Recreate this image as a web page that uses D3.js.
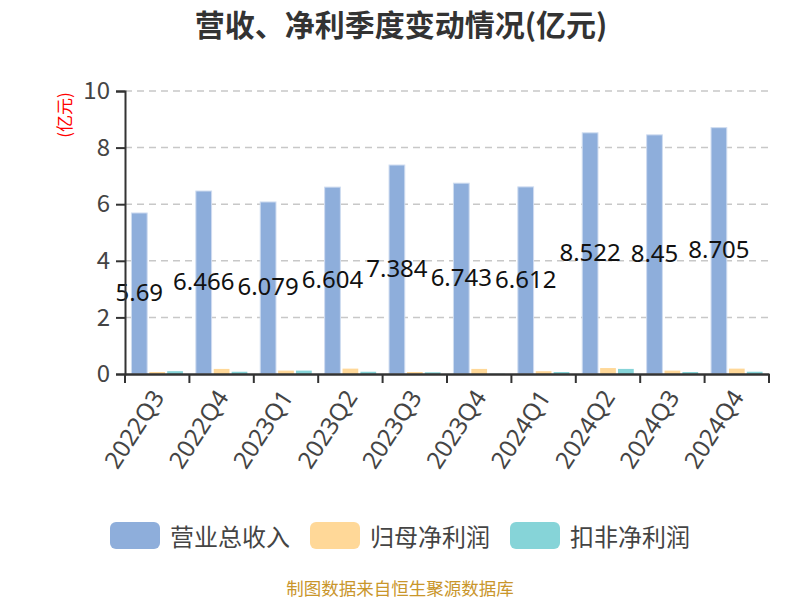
<!DOCTYPE html>
<html><head><meta charset="utf-8">
<script src="https://cdn.jsdelivr.net/npm/d3@7/dist/d3.min.js"></script>
<style>body{margin:0;background:#fff}svg{display:block}text{font-family:"Noto Sans CJK SC","Noto Sans",sans-serif}</style>
</head><body><svg id="c" width="800" height="600"></svg>
<script>
const categories = ["2022Q3","2022Q4","2023Q1","2023Q2","2023Q3","2023Q4","2024Q1","2024Q2","2024Q3","2024Q4"];
const seriesNames = ["营业总收入","归母净利润","扣非净利润"];
const revenue = [5.69,6.466,6.079,6.604,7.384,6.743,6.612,8.522,8.45,8.705];
const netProfit = [0.07,0.18,0.12,0.19,0.07,0.18,0.10,0.21,0.12,0.19];
const deductedProfit = [0.10,0.08,0.12,0.08,0.06,0.01,0.07,0.18,0.07,0.08];
const yTicks = [0,2,4,6,8,10];
const colors = ["#8eaedb","#ffd898","#86d4d8"];

const numFont = "'Noto Sans','Noto Sans CJK SC',sans-serif";
const svg = d3.select("#c");
const L=125,R=769,T=91,B=374;
const x0 = d3.scaleBand().domain(categories).range([L,R]).padding(0);
const x1 = d3.scaleBand().domain(seriesNames).range([0,x0.bandwidth()]).paddingInner(0.12).paddingOuter(0.36);
const y = d3.scaleLinear().domain([0,10]).range([B,T]);
const seriesData = [revenue, netProfit, deductedProfit];

// title
svg.append("text").attr("x",401).attr("y",23).attr("text-anchor","middle").attr("dominant-baseline","central")
  .attr("font-size",30).attr("font-weight","bold").attr("fill","#333").text("营收、净利季度变动情况(亿元)");

// grid
svg.append("g").selectAll("line").data(yTicks.filter(d=>d>0)).join("line")
  .attr("x1",L).attr("x2",R).attr("y1",d=>y(d)).attr("y2",d=>y(d))
  .attr("stroke","#c8c8c8").attr("stroke-width",1.5).attr("stroke-dasharray","7,5");

// bars
seriesData.forEach((vals,si)=>{
  svg.append("g").selectAll("rect").data(vals).join("rect")
    .attr("x",(d,i)=>x0(categories[i])+x1(seriesNames[si]))
    .attr("width",x1.bandwidth())
    .attr("y",d=>y(d)).attr("height",d=>B-y(d))
    .attr("fill",colors[si])
    .attr("stroke", si===0 ? "#cfdcf0" : "none").attr("stroke-width", si===0?1:0);
});

// labels
svg.append("g").selectAll("text").data(revenue).join("text")
  .attr("x",(d,i)=>x0(categories[i])+x1(seriesNames[0])+x1.bandwidth()/2)
  .attr("y",d=>y(d/2)-2).attr("text-anchor","middle").attr("dominant-baseline","central")
  .attr("font-size",24).attr("fill","#111").style("font-family",numFont).text(d=>d);

// y axis
const yAxis = svg.append("g").attr("transform",`translate(${L},0)`)
  .call(d3.axisLeft(y).tickValues(yTicks).tickSize(9).tickPadding(6));
yAxis.select(".domain").attr("stroke","#333").attr("stroke-width",2);
yAxis.selectAll(".tick line").attr("stroke","#333").attr("stroke-width",2);
yAxis.selectAll(".tick text").attr("font-size",24).attr("fill","#444").attr("font-family",numFont);

// x axis
const xAxis = svg.append("g").attr("transform",`translate(0,${B})`)
  .call(d3.axisBottom(x0).tickSize(0).tickFormat(""));
xAxis.select(".domain").attr("stroke","#333").attr("stroke-width",2.5);
svg.append("g").selectAll("line").data(categories.concat(["__end"])).join("line")
  .attr("x1",(d,i)=> i<categories.length ? x0(d) : R).attr("x2",(d,i)=> i<categories.length ? x0(d) : R)
  .attr("y1",B).attr("y2",B+9).attr("stroke","#333").attr("stroke-width",2);
svg.append("g").selectAll("text").data(categories).join("text")
  .attr("transform",d=>`translate(${x0(d)+x0.bandwidth()/2},${B+18}) rotate(-57)`)
  .attr("text-anchor","end").attr("dominant-baseline","central")
  .attr("font-size",24).attr("fill","#444").style("font-family",numFont).text(d=>d);

// y axis name
svg.append("text").attr("transform","translate(63,115) rotate(-90)").attr("text-anchor","middle")
  .attr("dominant-baseline","central").attr("font-size",17).attr("fill","#ff0000").text("(亿元)");

// legend
const lg = svg.append("g").selectAll("g").data(seriesNames).join("g")
  .attr("transform",(d,i)=>`translate(${110+i*200},522)`);
lg.append("rect").attr("width",50).attr("height",27).attr("rx",6).attr("fill",(d,i)=>colors[i]);
lg.append("text").attr("x",60).attr("y",13.5).attr("dominant-baseline","central")
  .attr("font-size",24).attr("fill","#444").text(d=>d);

// source
svg.append("text").attr("x",400).attr("y",587).attr("text-anchor","middle").attr("dominant-baseline","central")
  .attr("font-size",17.5).attr("fill","#c9962b").text("制图数据来自恒生聚源数据库");
</script></body></html>
